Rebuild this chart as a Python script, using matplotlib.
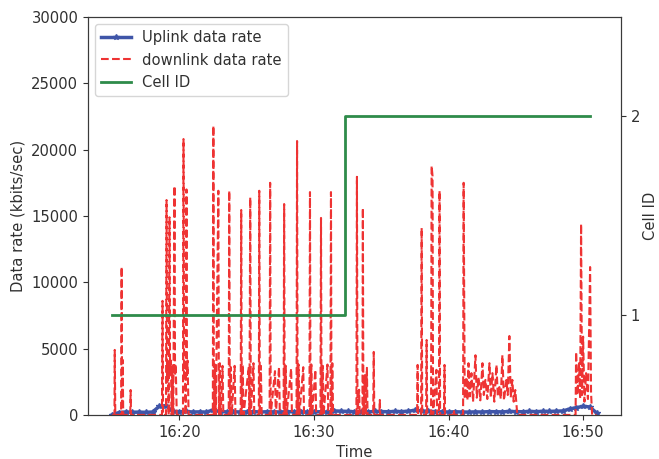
import numpy as np
import pandas as pd
from matplotlib import pyplot as plt
import matplotlib.dates as mdates

# minutes after 16:00
base_time = pd.Timestamp('2019-01-01 16:00:00')

# uplink, sampled every half minute from 16:15 to 16:51
ul_minutes = np.arange(15.0, 51.01, 0.5)
ul_rate = [0, 180, 220, 200, 210, 190, 220, 650, 700, 260,
           240, 260, 220, 230, 210, 380, 250, 230, 240, 220,
           230, 250, 220, 240, 230, 220, 250, 230, 240, 220,
           230, 240, 220, 300, 280, 260, 240, 250, 230, 260,
           250, 240, 260, 250, 280, 350, 300, 270, 250, 230,
           220, 240, 220, 210, 230, 220, 250, 240, 230, 260,
           250, 240, 260, 250, 270, 260, 280, 300, 450, 550,
           650, 600, 150]

dl_minutes = [15.00, 15.17, 15.19, 15.23, 15.66, 15.70, 15.74, 15.78, 15.82, 16.34, 16.37, 16.40,
              18.70, 18.74, 18.78, 19.00, 19.04, 19.08, 19.14, 19.20, 19.26, 19.30, 19.36, 19.42,
              19.48, 19.54, 19.63, 19.67, 19.72, 19.80, 20.26, 20.30, 20.34, 20.40, 20.46, 20.52,
              20.56, 20.60, 20.68,
              22.48, 22.52, 22.56, 22.64, 22.70, 22.89, 22.93, 23.00, 23.06, 23.20, 23.26,
              23.66, 23.70, 23.74, 23.82, 23.88, 24.10, 24.16, 24.55, 24.59, 24.63, 24.70, 24.76,
              25.15, 25.20, 25.26, 25.30, 25.50, 25.56, 25.90, 25.93, 25.97, 26.05, 26.11,
              26.70, 26.74, 26.78, 27.10, 27.16, 27.40, 27.46, 27.74, 27.78, 27.82, 27.90, 27.96,
              28.30, 28.36, 28.70, 28.74, 28.78, 28.85, 28.91, 29.20, 29.26, 29.66, 29.70, 29.74,
              29.80, 29.86, 30.10, 30.16, 30.48, 30.52, 30.56, 30.65, 30.71, 31.00, 31.06,
              31.22, 31.26, 31.30, 31.36, 31.42,
              33.15, 33.19, 33.23, 33.35, 33.40, 33.60, 33.63, 33.67, 33.78, 33.84, 33.93, 33.98,
              34.40, 34.44, 34.48, 34.86, 34.89, 34.92,
              37.66, 37.70, 37.74, 37.96, 38.00, 38.04, 38.33, 38.37, 38.41, 38.70, 38.74, 38.81,
              38.85, 39.10, 39.15, 39.29, 39.33, 39.37, 39.66, 39.70, 39.74, 40.37, 40.40, 40.43,
              41.08, 41.12, 41.20, 41.33, 41.40, 41.48, 41.58, 41.70, 41.82, 42.00, 42.10, 42.22,
              42.36, 42.52, 42.62, 42.74, 42.88, 43.04, 43.14, 43.26, 43.40, 43.56, 43.66, 43.78,
              43.88, 44.00, 44.12, 44.30, 44.40, 44.52, 44.62, 44.74, 44.84, 44.96, 45.11,
              49.44, 49.48, 49.58, 49.70, 49.78, 49.85, 49.92, 50.00, 50.10, 50.22, 50.36, 50.52,
              50.59, 50.67, 51.00]
dl_rate = [0, 0, 4900, 0, 0, 11160, 0, 4150, 0, 0, 1880, 0,
           0, 8600, 0, 0, 16200, 2500, 3600, 0, 14900, 3000, 4100, 0,
           3700, 0, 17260, 3000, 3800, 0, 0, 20800, 3000, 4200, 0, 17000,
           3000, 4100, 0,
           0, 21800, 0, 3800, 0, 16900, 0, 3900, 0, 3700, 0,
           0, 16900, 0, 3600, 0, 3700, 0, 0, 15450, 0, 3800, 0,
           3600, 0, 16400, 0, 3900, 0, 0, 16900, 0, 3700, 0,
           0, 17500, 0, 3300, 0, 3600, 0, 0, 15900, 0, 3700, 0,
           3500, 0, 0, 20650, 0, 3800, 0, 3600, 0, 0, 16800, 0,
           3800, 0, 3400, 0, 0, 14850, 0, 3700, 0, 3800, 0,
           0, 16800, 0, 3900, 0,
           0, 17950, 0, 1900, 0, 0, 15600, 0, 3000, 0, 3550, 0,
           0, 4750, 0, 0, 1130, 0,
           0, 3770, 0, 0, 14100, 0, 0, 5650, 0, 0, 18770, 18000,
           0, 3400, 0, 0, 16900, 0, 0, 3770, 0, 0, 400, 0,
           0, 17500, 1200, 2860, 1100, 3900, 1400, 3150, 1000, 4500, 1300, 2860,
           1100, 3900, 1500, 2640, 1200, 3900, 1300, 3150, 1000, 3770, 1400, 2100,
           1200, 4500, 1100, 2640, 1500, 5950, 1300, 2640, 1000, 1880, 0,
           0, 4750, 1500, 3900, 1200, 14400, 1500, 5900, 1000, 3150, 1200, 11150,
           1650, 0, 0]

cell_minutes = [15.0, 32.33, 50.52]
cell_id = [1, 2, 2]


def to_time(minutes):
    return base_time + pd.to_timedelta(np.asarray(minutes, dtype=float), unit='m')


text_col = '#303030'
plt.rcParams['text.color'] = text_col
plt.rcParams['axes.labelcolor'] = text_col
plt.rcParams['xtick.color'] = text_col
plt.rcParams['ytick.color'] = text_col
plt.rcParams['axes.edgecolor'] = '#3a3a3a'
plt.rcParams['font.size'] = 10.6
plt.rcParams['legend.fontsize'] = 10.6

fig, ax = plt.subplots(figsize=(6.59, 4.59), dpi=100)
fig.subplots_adjust(left=0.1335, right=0.942, bottom=0.096, top=0.963)

ax.plot(to_time(ul_minutes), ul_rate, color='#3f55a8', lw=2.5, marker='*', markersize=4,
        label='Uplink data rate')
ax.plot(to_time(dl_minutes), dl_rate, color='#ee3333', lw=1.5, ls='--',
        label='downlink data rate')
ax.set_ylim(0, 30000)
ax.set_ylabel('Data rate (kbits/sec)')
ax.set_xlabel('Time')
ax.xaxis.set_major_locator(mdates.MinuteLocator(byminute=[0, 10, 20, 30, 40, 50]))
ax.xaxis.set_major_formatter(mdates.DateFormatter('%H:%M'))

ax2 = ax.twinx()
ax2.plot(to_time(cell_minutes), cell_id, color='#2e8b4a', lw=2, drawstyle='steps-post',
         label='Cell ID')
ax2.set_ylim(0.5, 2.5)
ax2.set_yticks([1, 2])
ax2.set_ylabel('Cell ID', labelpad=2)

h1, l1 = ax.get_legend_handles_labels()
h2, l2 = ax2.get_legend_handles_labels()
ax2.legend(h1 + h2, l1 + l2, loc='upper left')

fig.savefig('out.png')
plt.close(fig)
